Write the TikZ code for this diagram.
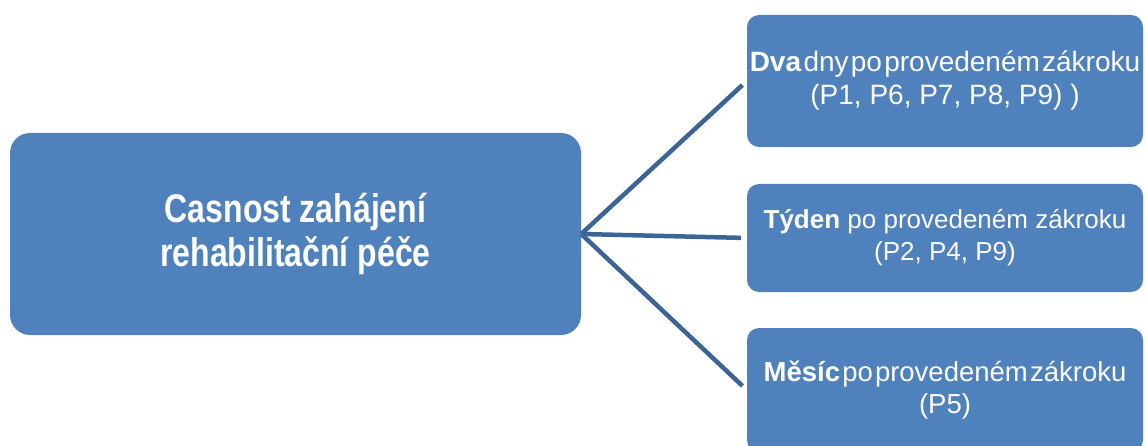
\documentclass[tikz,border=0pt]{standalone}
\usepackage{fontspec}
\setmainfont{Liberation Sans}
\newfontfamily\narrowfont[FakeStretch=0.8]{Liberation Sans}
\usepackage{xcolor}
\definecolor{boxblue}{HTML}{4F81BD}
\definecolor{lineblue}{HTML}{3C6496}
\newcommand{\tightline}[1]{{\spaceskip=0.08em\relax #1}}

\tikzset{
  mainbox/.style={fill=boxblue, rounded corners=20pt, minimum width=571pt, minimum height=202pt,
    text=white, align=center, font=\narrowfont\bfseries\fontsize{40}{44}\selectfont},
  timebox/.style={fill=boxblue, rounded corners=12pt, minimum width=396pt, inner sep=0pt,
    text=white, align=center, font=\fontsize{26}{32}\selectfont},
  link/.style={draw=lineblue, line width=4.5pt, shorten >=6pt}
}

\begin{document}
\begin{tikzpicture}[x=1pt,y=-1pt]
\useasboundingbox (0,0) rectangle (1145,446);
\clip (0,0) rectangle (1145,446);

\node[mainbox] (start) at (295.5,234) {Casnost zahájení\\rehabilitační péče};

\node[timebox, minimum height=132pt, font=\fontsize{28}{33}\selectfont] (dva) at (945,81)
  {\tightline{\textbf{Dva} dny po provedeném zákroku}\\(P1, P6, P7, P8, P9) )};
\node[timebox, minimum height=108pt] (tyden) at (945,238)
  {\textbf{Týden} po provedeném zákroku\\(P2, P4, P9)};
\node[timebox, minimum height=124pt, font=\fontsize{27.5}{32}\selectfont] (mesic) at (945,390)
  {\tightline{\textbf{Měsíc} po provedeném zákroku}\\(P5)};

\foreach \t in {dva, tyden, mesic}
  \draw[link] (start.east) -- (\t.west);
\end{tikzpicture}
\end{document}
